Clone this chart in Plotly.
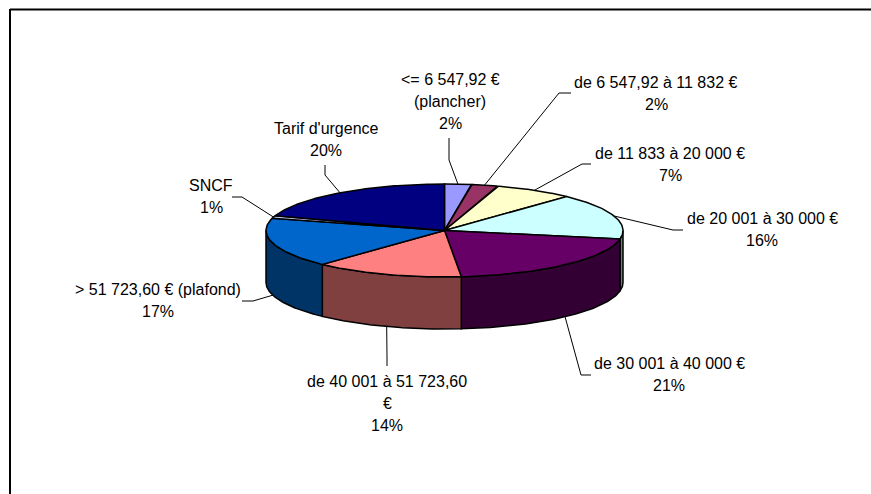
"""3D-looking pie of the fee brackets, drawn as filled polygons in pixel-sized axes."""

import numpy as np
import plotly.graph_objects as go

CATEGORIES = [
    ["<= 6 547,92 €", "(plancher)"],
    ["de 6 547,92 à 11 832 €"],
    ["de 11 833 à 20 000 €"],
    ["de 20 001 à 30 000 €"],
    ["de 30 001 à 40 000 €"],
    ["de 40 001 à 51 723,60", "€"],
    ["> 51 723,60 € (plafond)"],
    ["SNCF"],
    ["Tarif d'urgence"],
]
SHARES = [2.4, 2.4, 7.2, 15.9, 20.6, 13.5, 17.2, 0.9, 19.9]
COLORS = ["#9999FF", "#993366", "#FFFFCC", "#CCFFFF", "#660066",
          "#FF8080", "#0066CC", "#CCCCFF", "#000080"]
SIDES = ["#4D4D80", "#4D1A33", "#808066", "#668080", "#330033",
         "#804040", "#003366", "#666680", "#000040"]

# pie geometry, in screen pixels
CX, CY = 444.5, 230.5
RX, RY = 178.5, 46.5
DEPTH = 52
LINE_STEP = 22
FONT = dict(family="Liberation Sans", size=16, color="#000000")

# centre of each label's first line
LABEL_POS = [
    (450, 79), (656, 82), (670, 153), (762, 218), (669, 363),
    (387, 381), (158, 289), (211, 185), (326, 128),
]
# leader: elbow then end, going away from the pie
LEADERS = [
    [(449, 160), (449, 138)],
    [(559, 93), (571, 93)],
    [(582, 164), (591, 164)],
    [(673, 230), (683, 230)],
    [(581, 375), (591, 375)],
    [(387, 357), (387, 366)],
    [(253, 301), (242, 301)],
    [(242, 197), (232, 197)],
    [(325, 175), (325, 165)],
]


def rim(theta):
    """Point on the top ellipse; theta in degrees, clockwise from 12 o'clock."""
    t = np.radians(theta)
    return CX + RX * np.sin(t), CY - RY * np.cos(t)


fractions = np.array(SHARES) / sum(SHARES)
edges = np.concatenate([[0], np.cumsum(fractions)]) * 360

fig = go.Figure()

# side walls, only the part of each slice facing the viewer
for i in range(len(SHARES)):
    lo, hi = max(edges[i], 90), min(edges[i + 1], 270)
    if hi <= lo:
        continue
    x, y = rim(np.linspace(lo, hi, 80))
    fig.add_trace(go.Scatter(
        x=np.concatenate([x, x[::-1], x[:1]]),
        y=np.concatenate([y, y[::-1] + DEPTH, y[:1]]),
        mode="lines", fill="toself", fillcolor=SIDES[i],
        line=dict(color="#000000", width=1.5), hoverinfo="skip",
    ))

# top face
for i in range(len(SHARES)):
    x, y = rim(np.linspace(edges[i], edges[i + 1], 80))
    fig.add_trace(go.Scatter(
        x=np.concatenate([[CX], x, [CX]]),
        y=np.concatenate([[CY], y, [CY]]),
        mode="lines", fill="toself", fillcolor=COLORS[i],
        line=dict(color="#000000", width=1.5),
        name=" ".join(CATEGORIES[i]), hoverinfo="name",
    ))

# leader lines and labels
shapes = []
for i, lines in enumerate(CATEGORIES):
    mid = (edges[i] + edges[i + 1]) / 2
    x0, y0 = rim(mid)
    if 90 < mid < 270:
        y0 += DEPTH
    pts = [(x0, y0)] + LEADERS[i]
    for a, b in zip(pts, pts[1:]):
        shapes.append(dict(type="line", x0=a[0], y0=a[1], x1=b[0], y1=b[1],
                           line=dict(color="#000000", width=1)))
    for k, text in enumerate(lines + [f"{SHARES[i]:.0f}%"]):
        fig.add_annotation(x=LABEL_POS[i][0], y=LABEL_POS[i][1] + k * LINE_STEP,
                           showarrow=False, text=text, font=FONT)

# chart frame: only top and left edges show in the window
shapes.append(dict(type="line", x0=10, y0=9.5, x1=871, y1=9.5, line=dict(color="#000000", width=2)))
shapes.append(dict(type="line", x0=10, y0=9, x1=10, y1=494, line=dict(color="#000000", width=2)))

fig.update_layout(
    width=871, height=494,
    margin=dict(l=0, r=0, t=0, b=0),
    paper_bgcolor="#FFFFFF", plot_bgcolor="#FFFFFF",
    showlegend=False, shapes=shapes,
    xaxis=dict(range=[0, 871], visible=False, fixedrange=True),
    yaxis=dict(range=[494, 0], visible=False, fixedrange=True),
)
# the page's default body margin would shift the whole picture by 8px
fig.write_html("out.html", config=dict(displayModeBar=False),
               post_script="document.body.style.margin='0';document.body.style.overflow='hidden';")
